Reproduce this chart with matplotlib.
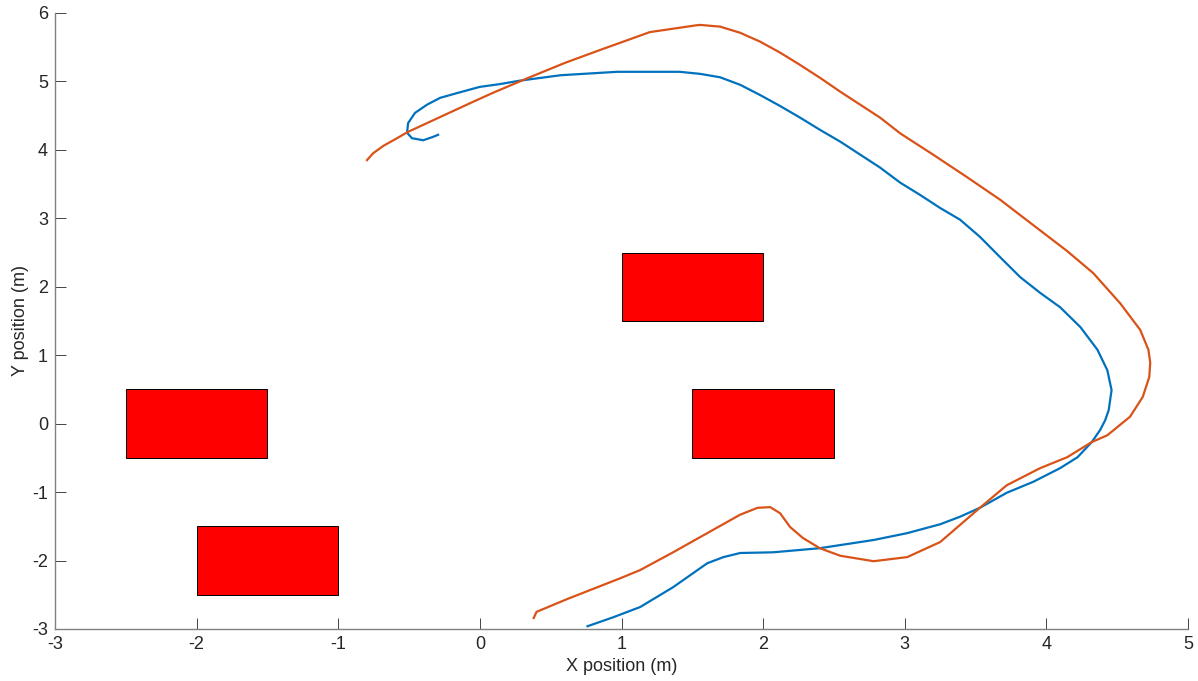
import matplotlib.pyplot as plt
from matplotlib.patches import Rectangle

plt.rcParams['font.family'] = ['Liberation Sans', 'DejaVu Sans']
plt.rcParams['axes.unicode_minus'] = False

# Actual trajectory (blue)
blue_x = [-0.295, -0.33, -0.40, -0.48, -0.514, -0.507, -0.458, -0.373, -0.28, -0.16, 0.00,
          0.14, 0.28, 0.425, 0.57, 0.97, 1.41, 1.555, 1.696, 1.838, 1.979, 2.12, 2.261,
          2.403, 2.544, 2.685, 2.826, 2.968, 3.109, 3.25, 3.39, 3.53, 3.674, 3.815, 3.956,
          4.097, 4.24, 4.36, 4.43, 4.46, 4.44, 4.415, 4.38, 4.32, 4.22, 4.097, 3.907,
          3.72, 3.53, 3.39, 3.25, 3.017, 2.78, 2.40, 2.07, 1.838, 1.72, 1.605, 1.364,
          1.131, 1.08, 0.94, 0.76]
blue_y = [4.22, 4.19, 4.14, 4.17, 4.25, 4.39, 4.54, 4.66, 4.76, 4.83, 4.92,
          4.96, 5.01, 5.05, 5.09, 5.14, 5.14, 5.11, 5.06, 4.95, 4.80, 4.64, 4.47,
          4.29, 4.12, 3.93, 3.74, 3.52, 3.34, 3.15, 2.98, 2.73, 2.43, 2.14, 1.91,
          1.70, 1.41, 1.08, 0.78, 0.49, 0.20, 0.05, -0.09, -0.27, -0.49, -0.65, -0.85,
          -1.01, -1.23, -1.36, -1.47, -1.60, -1.70, -1.82, -1.88, -1.89, -1.95, -2.04, -2.39,
          -2.68, -2.72, -2.83, -2.96]

# Reference trajectory (orange)
orange_x = [-0.797, -0.754, -0.68, -0.585, -0.51, -0.28, -0.05, 0.10, 0.34, 0.60,
            0.85, 1.20, 1.53, 1.555, 1.696, 1.838, 1.979, 2.12, 2.261, 2.403, 2.544, 2.685,
            2.826, 2.968, 3.20, 3.44, 3.674, 3.907, 4.147, 4.33, 4.52, 4.662, 4.72, 4.733,
            4.726, 4.68, 4.59, 4.43, 4.32, 4.147, 3.956, 3.72, 3.53, 3.39, 3.25, 3.017,
            2.78, 2.544, 2.40, 2.28, 2.19, 2.12, 2.05, 1.96, 1.838, 1.605, 1.364, 1.131,
            0.99, 0.62, 0.40, 0.38]
orange_y = [3.85, 3.95, 4.06, 4.17, 4.26, 4.48, 4.70, 4.84, 5.05, 5.27,
            5.46, 5.72, 5.82, 5.825, 5.80, 5.71, 5.58, 5.42, 5.24, 5.05, 4.85, 4.66,
            4.47, 4.24, 3.93, 3.60, 3.27, 2.90, 2.52, 2.20, 1.76, 1.37, 1.08, 0.89,
            0.68, 0.39, 0.10, -0.17, -0.27, -0.49, -0.65, -0.90, -1.23, -1.48, -1.73, -1.95,
            -2.01, -1.93, -1.82, -1.67, -1.51, -1.31, -1.22, -1.23, -1.33, -1.60, -1.88, -2.14,
            -2.26, -2.56, -2.75, -2.84]

# Obstacles: lower-left corner, width, height
obs_x = [1.0, 1.5, -2.5, -2.0]
obs_y = [1.5, -0.5, -0.5, -2.5]
obs_w = [1.0, 1.0, 1.0, 1.0]
obs_h = [1.0, 1.0, 1.0, 1.0]

fig = plt.figure(figsize=(11.98, 6.81), dpi=100)
ax = fig.add_axes([0.0459, 0.0764, 0.9458, 0.9046])

for x, y, w, h in zip(obs_x, obs_y, obs_w, obs_h):
    ax.add_patch(Rectangle((x, y), w, h, facecolor='#ff0000', edgecolor='black', linewidth=0.7))

ax.plot(blue_x, blue_y, color='#0072BD', linewidth=1.6)
ax.plot(orange_x, orange_y, color='#D95319', linewidth=1.6)

ax.set_xlim(-3, 5)
ax.set_ylim(-3, 6)
ax.set_xlabel('X position (m)', fontsize=13, color='#262626', labelpad=4)
ax.set_ylabel('Y position (m)', fontsize=13, color='#262626', labelpad=2)

ax.spines['top'].set_visible(False)
ax.spines['right'].set_visible(False)
for s in ['left', 'bottom']:
    ax.spines[s].set_color('#808080')
    ax.spines[s].set_linewidth(1.0)
ax.tick_params(direction='in', length=8, width=0.6, color='#262626',
               labelsize=13, labelcolor='#262626', pad=5)

fig.savefig('out.png', dpi=100)
